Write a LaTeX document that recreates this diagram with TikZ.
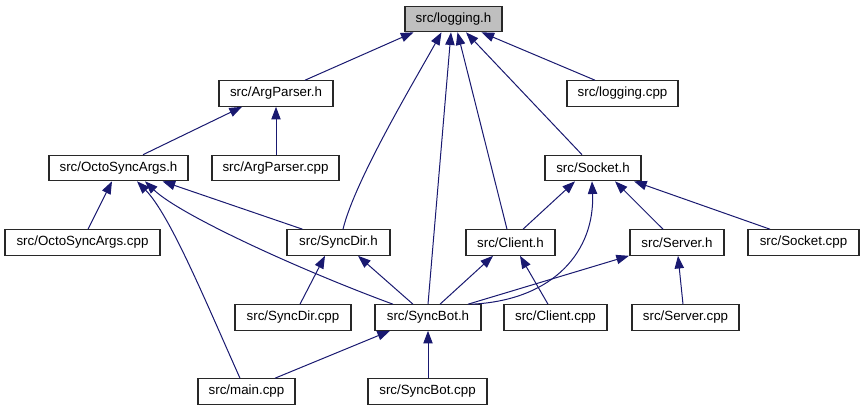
\documentclass[tikz,border=0pt]{standalone}
\usepackage{fontspec}
\setmainfont{Liberation Sans}
\usetikzlibrary{arrows.meta,calc}
\definecolor{edgeblue}{RGB}{25,25,112}
\definecolor{boxgray}{RGB}{191,191,191}
\definecolor{boxline}{RGB}{40,40,40}
\tikzset{
  box/.style={draw=boxline, line width=0.85pt, fill=white, inner sep=0pt,
    minimum height=19.1pt, font=\fontsize{10}{12}\selectfont},
  edge/.style={draw=edgeblue, line width=0.75pt, -{Triangle[length=9.5pt,width=7pt]}}
}
\newcommand\bx[5][]{\node[box,#1, minimum width=#4*0.75pt] (#2) at (#3) {#5};}
\begin{document}
\begin{tikzpicture}[x=0.75pt,y=-0.75pt]
\useasboundingbox (0,0) rectangle (865,411);
% nodes
\bx[fill=boxgray]{logging}{453.5,19}{97}{src/logging.h}
\bx{ArgParser}{276,93.5}{114}{src/ArgParser.h}
\bx{loggingcpp}{622.5,93.5}{111}{src/logging.cpp}
\bx{Octo}{118.5,168}{139}{src/OctoSyncArgs.h}
\bx{ArgParsercpp}{275.5,168}{127}{src/ArgParser.cpp}
\bx{Socket}{593,168}{96}{src/Socket.h}
\bx{Octocpp}{82.5,242.5}{155}{src/OctoSyncArgs.cpp}
\bx{SyncDir}{338.5,242.5}{103}{src/SyncDir.h}
\bx{Client}{510.5,242.5}{89}{src/Client.h}
\bx{Server}{677,242.5}{94}{src/Server.h}
\bx{Socketcpp}{803.5,242.5}{111}{src/Socket.cpp}
\bx{SyncDircpp}{293,317.5}{116}{src/SyncDir.cpp}
\bx{SyncBot}{428,317.5}{106}{src/SyncBot.h}
\bx{Clientcpp}{555.5,317.5}{103}{src/Client.cpp}
\bx{Servercpp}{685.5,317.5}{107}{src/Server.cpp}
\bx{main}{246.5,391.5}{97}{src/main.cpp}
\bx{SyncBotcpp}{427.5,391.5}{119}{src/SyncBot.cpp}
% edges to logging.h
\draw[edge] ($(ArgParser.north)+(29,0)$) -- ($(logging.south)+(-40,0)$);
\draw[edge] ($(SyncDir.north)+(4.5,0)$) .. controls (355,180) and (415,80) .. ($(logging.south)+(-12,0)$);
\draw[edge] (SyncBot.north) -- ($(logging.south)+(-2.5,0)$);
\draw[edge] ($(Client.north)+(-3.5,0)$) -- ($(logging.south)+(4,0)$);
\draw[edge] ($(Socket.north)+(-11,0)$) -- ($(logging.south)+(12.5,0)$);
\draw[edge] ($(loggingcpp.north)+(-27.5,0)$) -- ($(logging.south)+(28,0)$);
% edges to ArgParser.h
\draw[edge] ($(Octo.north)+(24.5,0)$) -- ($(ArgParser.south)+(-34,0)$);
\draw[edge] ($(ArgParsercpp.north)+(0.5,0)$) -- (ArgParser.south);
% edges to OctoSyncArgs.h
\draw[edge] ($(Octocpp.north)+(5.5,0)$) -- ($(Octo.south)+(-6.5,0)$);
\draw[edge] ($(main.north)+(-6.5,0)$) .. controls (205,300) and (170,215) .. ($(Octo.south)+(18.5,0)$);
\draw[edge] ($(SyncBot.north)+(-35,0)$) .. controls (300,270) and (180,215) .. ($(Octo.south)+(26.5,0)$);
\draw[edge] ($(SyncDir.north)+(-36,0)$) -- ($(Octo.south)+(44,0)$);
% edges to Socket.h
\draw[edge] ($(Client.north)+(12.5,0)$) -- ($(Socket.south)+(-18,0)$);
\draw[edge] ($(SyncBot.north)+(44,0)$) .. controls (555,300) and (595,250) .. ($(Socket.south)+(-1,0)$);
\draw[edge] ($(Server.north)+(-14,0)$) -- ($(Socket.south)+(22,0)$);
\draw[edge] ($(Socketcpp.north)+(-33.5,0)$) -- ($(Socket.south)+(41,0)$);
% edges to SyncDir.h
\draw[edge] ($(SyncDircpp.north)+(7,0)$) -- ($(SyncDir.south)+(-13.5,0)$);
\draw[edge] ($(SyncBot.north)+(-15,0)$) -- ($(SyncDir.south)+(19.5,0)$);
% edges to Client.h
\draw[edge] ($(SyncBot.north)+(12,0)$) -- ($(Client.south)+(-17.5,0)$);
\draw[edge] ($(Clientcpp.north)+(-7.5,0)$) -- ($(Client.south)+(9.5,0)$);
% edges to Server.h
\draw[edge] ($(SyncBot.north)+(40,0)$) -- ($(Server.south)+(-48,0)$);
\draw[edge] ($(Servercpp.north)+(-2.5,0)$) -- ($(Server.south)+(1,0)$);
% edges to SyncBot.h
\draw[edge] ($(main.north)+(28.5,0)$) -- ($(SyncBot.south)+(-38,0)$);
\draw[edge] ($(SyncBotcpp.north)+(0.5,0)$) -- (SyncBot.south);
\end{tikzpicture}
\end{document}
